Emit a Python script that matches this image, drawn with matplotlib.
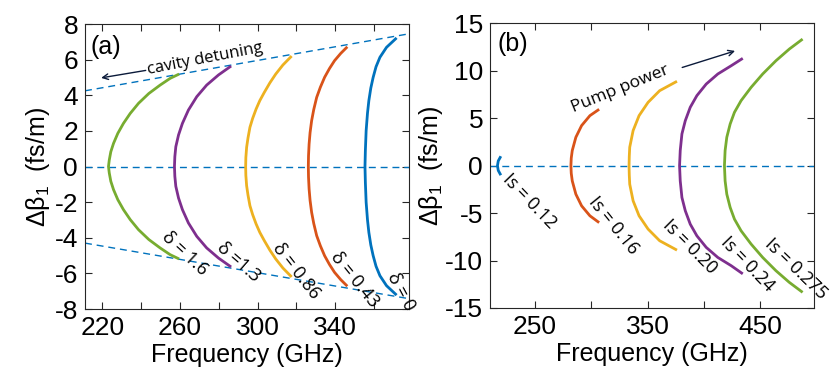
import matplotlib
matplotlib.use('Agg')
import matplotlib.pyplot as plt

plt.rcParams['font.family'] = ['Liberation Sans', 'DejaVu Sans']
plt.rcParams['mathtext.fontset'] = 'custom'
plt.rcParams['mathtext.rm'] = 'Liberation Sans'
plt.rcParams['mathtext.it'] = 'Liberation Sans'
plt.rcParams['axes.unicode_minus'] = False

# MATLAB default colours
c_blue, c_red, c_yel, c_pur, c_grn = '#0072BD', '#D95319', '#EDB120', '#7E2F8E', '#77AC30'

# ---- panel (a): curves for different detuning delta ----
a_green_f = [259.5, 254.9, 249.7, 243.9, 238.6, 234.3, 230.8, 227.9, 225.7, 224.3, 223.5, 223.1,
             223.5, 224.3, 225.7, 227.9, 230.8, 234.3, 238.6, 243.9, 249.7, 254.9, 259.5]
a_green_y = [-5.19, -4.95, -4.57, -4.1, -3.55, -2.98, -2.42, -1.86, -1.3, -0.83, -0.36, 0,
             0.36, 0.83, 1.3, 1.86, 2.42, 2.98, 3.55, 4.1, 4.57, 4.95, 5.19]
a_pur_f = [286.3, 279.8, 273.7, 268.6, 264.3, 261.2, 259.2, 257.8, 257.3, 257.1,
           257.3, 257.8, 259.2, 261.2, 264.3, 268.6, 273.7, 279.8, 286.3]
a_pur_y = [-5.64, -5.14, -4.57, -3.92, -3.17, -2.42, -1.77, -1.11, -0.55, 0,
           0.55, 1.11, 1.77, 2.42, 3.17, 3.92, 4.57, 5.14, 5.64]
a_yel_f = [317.5, 313.0, 309.3, 306.3, 303.4, 301.1, 299.2, 297.4, 296.0, 295.0, 294.3, 293.9, 293.8,
           293.9, 294.3, 295.0, 296.0, 297.4, 299.2, 301.1, 303.4, 306.3, 309.3, 313.0, 317.5]
a_yel_y = [-6.2, -5.7, -5.19, -4.7, -4.16, -3.7, -3.23, -2.7, -2.2, -1.6, -1.08, -0.5, 0,
           0.5, 1.08, 1.6, 2.2, 2.7, 3.23, 3.7, 4.16, 4.7, 5.19, 5.7, 6.2]
a_red_f = [346.2, 342.8, 339.6, 337.0, 334.5, 332.3, 330.4, 328.9, 327.8, 327.0, 326.5, 326.2, 326.1,
           326.2, 326.5, 327.0, 327.8, 328.9, 330.4, 332.3, 334.5, 337.0, 339.6, 342.8, 346.2]
a_red_y = [-6.72, -6.35, -5.94, -5.5, -5.01, -4.45, -3.88, -3.2, -2.57, -1.9, -1.26, -0.6, 0,
           0.6, 1.26, 1.9, 2.57, 3.2, 3.88, 4.45, 5.01, 5.5, 5.94, 6.35, 6.72]
a_blue_f = [371.6, 366.4, 363.0, 361.0, 359.5, 358.3, 357.3, 356.6, 355.9, 355.5, 355.3,
            355.5, 355.9, 356.6, 357.3, 358.3, 359.5, 361.0, 363.0, 366.4, 371.6]
a_blue_y = [-7.22, -6.69, -6.13, -5.6, -5.0, -4.4, -3.7, -3.0, -2.01, -0.89, 0,
            0.89, 2.01, 3.0, 3.7, 4.4, 5.0, 5.6, 6.13, 6.69, 7.22]
a_upper_f, a_upper_y = [211, 378], [4.25, 7.45]
a_lower_f, a_lower_y = [211, 378], [-4.3, -7.42]
a_labels = ['δ = 1.6', 'δ =1.3', 'δ = 0.86', 'δ = 0.43', 'δ = 0']
a_label_f = [262.6, 290.4, 320.1, 349.8, 373.8]
a_label_y = [-4.88, -5.35, -5.87, -6.37, -7.0]
a_label_rot = [-43, -41, -52, -51, -62]

# ---- panel (b): curves for different pump power Is ----
b_blue_f = [219.6, 217.3, 216.6, 217.3, 219.6]
b_blue_y = [-1.0, -0.5, 0, 0.5, 1.0]
b_red_f = [307.0, 298.8, 291.4, 286.3, 283.1, 282.2, 281.9, 282.2, 283.1, 286.3, 291.4, 298.8, 307.0]
b_red_y = [-6.0, -5.28, -4.23, -3.0, -1.6, -0.8, 0, 0.8, 1.6, 3.0, 4.23, 5.28, 5.95]
b_yel_f = [376.2, 360.8, 350.5, 342.5, 337.2, 334.2, 333.8, 333.6, 333.8, 334.2, 337.2, 342.5, 350.5, 360.8, 376.2]
b_yel_y = [-8.9, -7.91, -6.68, -5.28, -3.7, -1.95, -1.0, 0, 1.0, 1.95, 3.7, 5.28, 6.68, 7.91, 8.9]
b_pur_f = [434.7, 424.4, 412.5, 402.2, 393.9, 388.0, 383.6, 380.6, 379.1, 378.5,
           379.1, 380.6, 383.6, 388.0, 393.9, 402.2, 412.5, 424.4, 434.7]
b_pur_y = [-11.4, -10.54, -9.67, -8.61, -7.39, -6.16, -4.75, -3.35, -1.6, 0,
           1.6, 3.35, 4.75, 6.16, 7.39, 8.61, 9.67, 10.54, 11.32]
b_grn_f = [487.9, 476.1, 464.2, 452.4, 442.1, 433.2, 427.3, 423.5, 420.5, 419.0, 418.4,
           419.0, 420.5, 423.5, 427.3, 433.2, 442.1, 452.4, 464.2, 476.1, 487.9]
b_grn_y = [-13.35, -12.3, -11.07, -9.67, -8.26, -6.86, -5.63, -4.4, -3.0, -1.6, 0,
           1.6, 3.0, 4.4, 5.63, 6.86, 8.26, 9.67, 11.07, 12.3, 13.35]
b_labels = ['Is = 0.12', 'Is = 0.16', 'Is = 0.20', 'Is = 0.24', 'Is = 0.275']
b_label_f = [245.0, 319.4, 387.4, 439.1, 482.0]
b_label_y = [-3.77, -6.3, -8.5, -10.4, -10.9]
b_label_rot = [-46, -51, -45, -46, -44]

fig = plt.figure(figsize=(8.31, 3.78), dpi=100)
ax1 = fig.add_axes([0.1023, 0.1825, 0.3899, 0.754])
ax2 = fig.add_axes([0.5897, 0.1852, 0.3898, 0.7528])

dash = (0, (5, 3.5))
note_font = ['Open Sans', 'DejaVu Sans']

def style(ax):
    ax.tick_params(direction='in', top=True, right=True, labelsize=19, length=5,
                   width=0.8, colors='#262626', labelcolor='black', pad=5)
    for s in ax.spines.values():
        s.set_color('#262626')
        s.set_linewidth(0.8)

# panel (a)
ax1.plot(a_upper_f, a_upper_y, color=c_blue, lw=1, ls=dash)
ax1.plot(a_lower_f, a_lower_y, color=c_blue, lw=1, ls=dash)
ax1.axhline(0, color=c_blue, lw=1, ls=dash)
for f, y, c in [(a_green_f, a_green_y, c_grn), (a_pur_f, a_pur_y, c_pur), (a_yel_f, a_yel_y, c_yel),
                (a_red_f, a_red_y, c_red), (a_blue_f, a_blue_y, c_blue)]:
    ax1.plot(f, y, color=c, lw=2, solid_capstyle='butt', solid_joinstyle='round')
for t, f, y, r in zip(a_labels, a_label_f, a_label_y, a_label_rot):
    ax1.text(f, y, t, rotation=r, ha='center', va='center', fontsize=13,
             rotation_mode='anchor', clip_on=False, family=note_font)
ax1.annotate('', xy=(217.9, 4.95), xytext=(243.7, 5.42),
             arrowprops=dict(arrowstyle='->', color='#0b1a3a', lw=1))
ax1.text(272.9, 6.03, 'cavity detuning', rotation=11, ha='center', va='center', fontsize=12,
         rotation_mode='anchor', family=note_font)
ax1.text(0.018, 0.96, '(a)', transform=ax1.transAxes, fontsize=18, va='top', ha='left')
ax1.set_xlim(211, 378)
ax1.set_ylim(-8, 8)
ax1.set_xticks(range(220, 361, 20))
ax1.set_xticklabels(['220', '', '260', '', '300', '', '340', ''])
ax1.set_yticks(range(-8, 9, 2))
ax1.set_xlabel('Frequency (GHz)', fontsize=18, labelpad=2)
ax1.set_ylabel('Δβ$_1$  (fs/m)', fontsize=18, labelpad=2)
style(ax1)

# panel (b)
ax2.axhline(0, color=c_blue, lw=1, ls=dash)
for f, y, c in [(b_blue_f, b_blue_y, c_blue), (b_red_f, b_red_y, c_red), (b_yel_f, b_yel_y, c_yel),
                (b_pur_f, b_pur_y, c_pur), (b_grn_f, b_grn_y, c_grn)]:
    ax2.plot(f, y, color=c, lw=2, solid_capstyle='butt', solid_joinstyle='round')
for t, f, y, r in zip(b_labels, b_label_f, b_label_y, b_label_rot):
    ax2.text(f, y, t, rotation=r, ha='center', va='center', fontsize=13,
             rotation_mode='anchor', clip_on=False, family=note_font)
ax2.annotate('', xy=(430.2, 12.19), xytext=(378.5, 10.27),
             arrowprops=dict(arrowstyle='->', color='#0b1a3a', lw=1))
ax2.text(325.4, 8.09, 'Pump power', rotation=22, ha='center', va='center', fontsize=12.5,
         rotation_mode='anchor', family=note_font)
ax2.text(0.022, 0.97, '(b)', transform=ax2.transAxes, fontsize=18, va='top', ha='left')
ax2.set_xlim(210, 498)
ax2.set_ylim(-15, 15)
ax2.set_xticks(range(250, 451, 50))
ax2.set_xticklabels(['250', '', '350', '', '450'])
ax2.set_yticks(range(-15, 16, 5))
ax2.set_xlabel('Frequency (GHz)', fontsize=18, labelpad=2)
ax2.set_ylabel('Δβ$_1$  (fs/m)', fontsize=18, labelpad=0)
style(ax2)

fig.savefig('out.png', dpi=100)
